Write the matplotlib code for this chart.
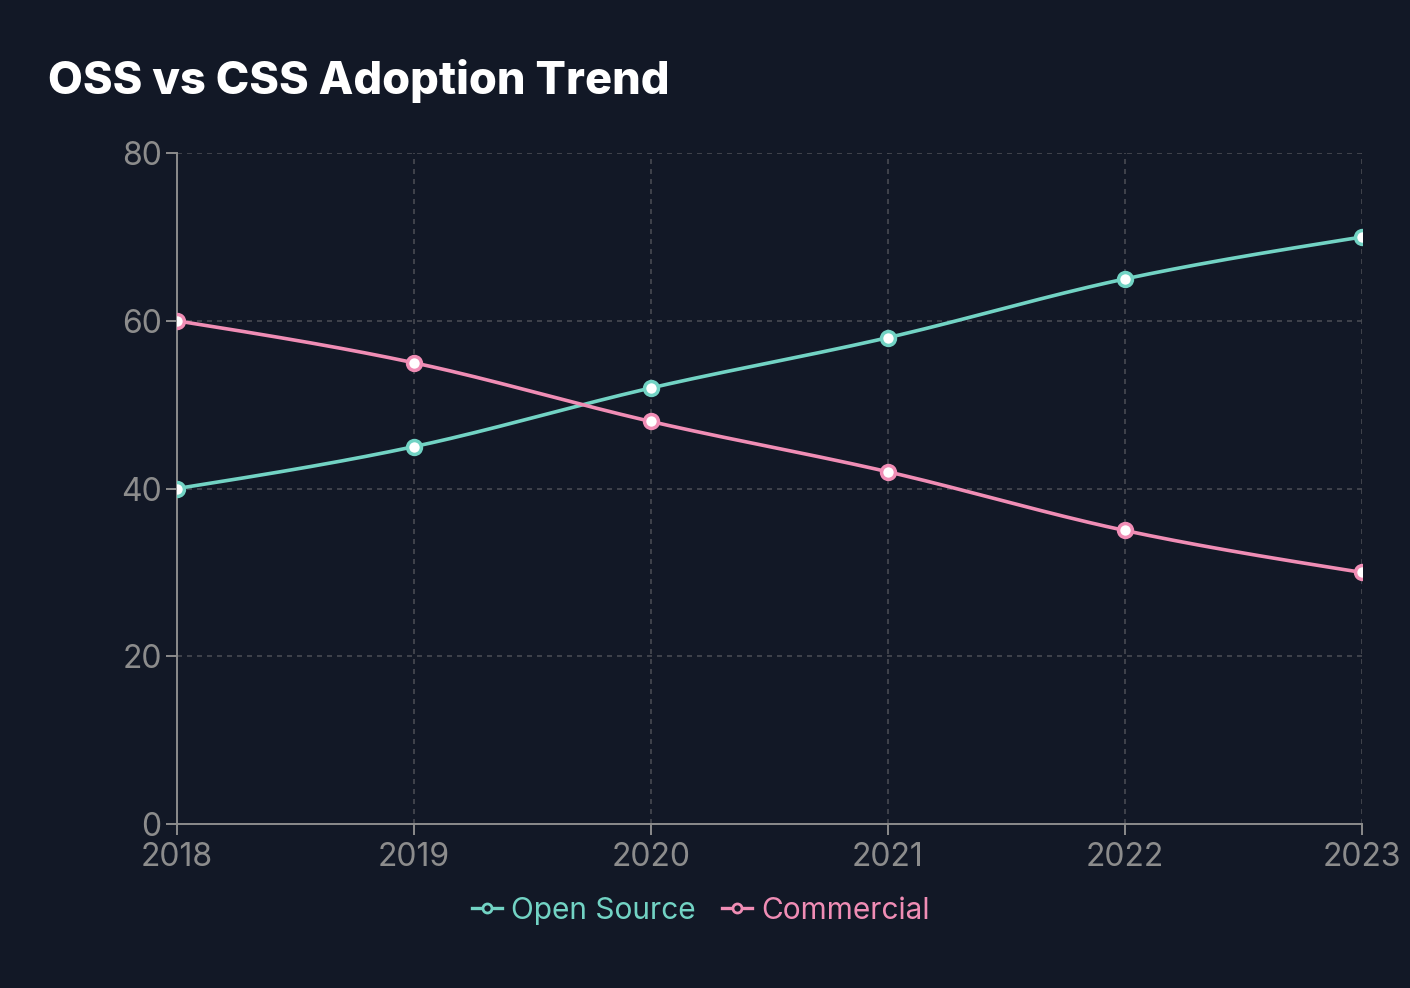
import numpy as np
import matplotlib.pyplot as plt
from matplotlib.lines import Line2D

years = [2018, 2019, 2020, 2021, 2022, 2023]
open_source = [40, 45, 52, 58, 65, 70]
commercial = [60, 55, 48, 42, 35, 30]
y_ticks = [0, 20, 40, 60, 80]

bg = "#121826"
teal = "#72d3c4"
pink = "#f08db5"
grey = "#8c8c8c"
plt.rcParams['font.family'] = ['Inter', 'DejaVu Sans']


def monotone(x, y, n=40):
    # monotone cubic curve through the points, like d3 curveMonotoneX
    x = np.asarray(x, float)
    y = np.asarray(y, float)
    h = np.diff(x)
    d = np.diff(y) / h
    m = np.zeros_like(y)
    for i in range(1, len(y) - 1):
        if d[i - 1] * d[i] <= 0:
            m[i] = 0
        else:
            p = (d[i - 1] * h[i] + d[i] * h[i - 1]) / (h[i - 1] + h[i])
            m[i] = np.sign(d[i - 1]) * min(abs(p), 2 * abs(d[i - 1]), 2 * abs(d[i]))
    # endpoints as in d3
    m[0] = (3 * d[0] - m[1]) / 2
    m[-1] = (3 * d[-1] - m[-2]) / 2
    xs, ys = [], []
    for i in range(len(h)):
        t = np.linspace(0, 1, n)
        h00 = 2 * t**3 - 3 * t**2 + 1
        h10 = t**3 - 2 * t**2 + t
        h01 = -2 * t**3 + 3 * t**2
        h11 = t**3 - t**2
        xs.append(x[i] + t * h[i])
        ys.append(h00 * y[i] + h10 * h[i] * m[i] + h01 * y[i + 1] + h11 * h[i] * m[i + 1])
    return np.concatenate(xs), np.concatenate(ys)


fig = plt.figure(figsize=(14.1, 9.88), dpi=100, facecolor=bg)
ax = fig.add_axes([0.1255, 0.166, 0.8404, 0.679])
ax.set_facecolor(bg)

for vals, col in [(open_source, teal), (commercial, pink)]:
    sx, sy = monotone(years, vals)
    ax.plot(sx, sy, color=col, lw=2.6, zorder=3, solid_capstyle='round')
    ax.plot(years, vals, 'o', ms=10, mfc='white', mec=col, mew=2.5, zorder=4)

ax.set_xlim(2018, 2023)
ax.set_ylim(0, 80)
ax.set_xticks(years)
ax.set_yticks(y_ticks)
ax.grid(True, color="#474a52", ls=(0, (3, 3)), lw=1.2)
ax.set_axisbelow(True)
for s in ['top', 'right']:
    ax.spines[s].set_visible(False)
for s in ['left', 'bottom']:
    ax.spines[s].set_color(grey)
    ax.spines[s].set_linewidth(1.4)
ax.tick_params(colors=grey, labelsize=23, length=8, width=1.4, pad=3)
ax.tick_params(axis='x', pad=5)
for lab in ax.get_xticklabels() + ax.get_yticklabels():
    lab.set_color(grey)

fig.text(0.034, 0.918, "OSS vs CSS Adoption Trend", color="white", fontsize=32.5,
         fontweight='heavy', va='center', ha='left')

handles = [Line2D([], [], color=teal, lw=2.4, marker='o', ms=6.5, mfc=bg, mec=teal, mew=2),
           Line2D([], [], color=pink, lw=2.4, marker='o', ms=6.5, mfc=bg, mec=pink, mew=2)]
leg = fig.legend(handles, ["Open Source", "Commercial"], loc='center',
                 bbox_to_anchor=(0.497, 0.078), ncol=2, frameon=False, fontsize=21.5,
                 handlelength=1.0, handletextpad=0.3, columnspacing=0.9)
for t, c in zip(leg.get_texts(), [teal, pink]):
    t.set_color(c)

fig.savefig("out.png", dpi=100, facecolor=bg)
